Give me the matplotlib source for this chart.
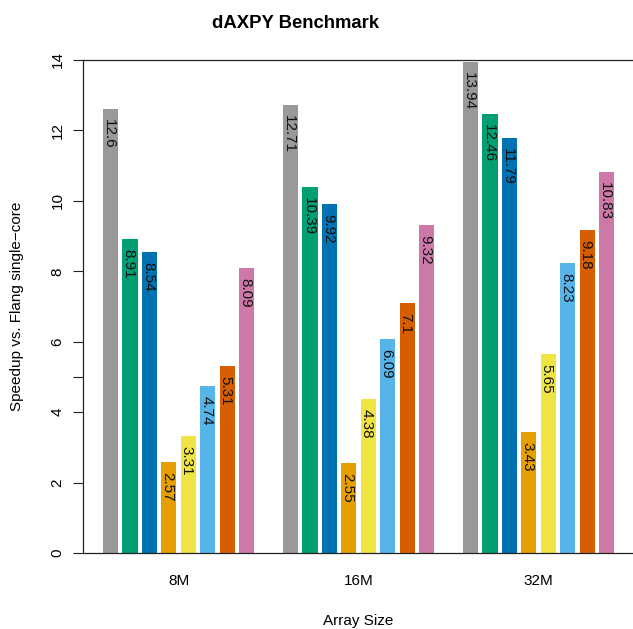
import matplotlib
matplotlib.use('Agg')
import matplotlib.pyplot as plt

plt.rcParams['font.family'] = ['Liberation Sans', 'DejaVu Sans']

sizes = ['8M', '16M', '32M']
series_colors = ['#999999', '#009E73', '#0072B2', '#E69F00',
                 '#F0E442', '#56B4E9', '#D55E00', '#CC79A7']
speedup_8M = [12.6, 8.91, 8.54, 2.57, 3.31, 4.74, 5.31, 8.09]
speedup_16M = [12.71, 10.39, 9.92, 2.55, 4.38, 6.09, 7.1, 9.32]
speedup_32M = [13.94, 12.46, 11.79, 3.43, 5.65, 8.23, 9.18, 10.83]
yticks = [0, 2, 4, 6, 8, 10, 12, 14]

W, H = 633, 629
fig = plt.figure(figsize=(W / 100, H / 100), dpi=100)
ax_l, ax_r, ax_t, ax_b = 83, 633, 60, 553
ax = fig.add_axes([ax_l / W, 1 - ax_b / H, (ax_r - ax_l) / W, (ax_b - ax_t) / H])

bar_w = 0.78
group_pitch = 9.264
groups = [speedup_8M, speedup_16M, speedup_32M]
n = len(series_colors)
centers = []
for g, vals in enumerate(groups):
    c = g * group_pitch
    centers.append(c)
    for j, v in enumerate(vals):
        x = c + (j - (n - 1) / 2)
        ax.bar(x, v, width=bar_w, color=series_colors[j], linewidth=0)
        ax.annotate(f'{v:g}', (x, v), xytext=(-3.9, -7.2), textcoords='offset points',
                    rotation=-90, rotation_mode='anchor', ha='left', va='baseline',
                    fontsize=11, color='#111111')

ax.set_xlim(-4.915, 23.39)
ax.set_ylim(0, 14)

ax.spines['right'].set_visible(False)
for s in ['left', 'top', 'bottom']:
    ax.spines[s].set_color('#222222')
    ax.spines[s].set_linewidth(0.9)

ax.set_yticks(yticks)
ax.set_yticklabels([str(t) for t in yticks], rotation=90, va='center')
ax.set_yticks([5], minor=True)
ax.tick_params(axis='y', which='both', length=7.2, width=0.8, color='#222222', pad=6,
               labelsize=11)
ax.set_xticks(centers)
ax.set_xticklabels(sizes)
ax.tick_params(axis='x', length=0, pad=15, labelsize=11)

fig.text(295.7 / W, 1 - 28 / H, 'dAXPY Benchmark', ha='center', va='baseline',
         fontsize=13.3, fontweight='bold')
fig.text(358 / W, 1 - 625 / H, 'Array Size', ha='center', va='baseline', fontsize=11)
fig.text(17.5 / W, 1 - 306.5 / H, 'Speedup vs. Flang single\u2212core', ha='center',
         va='center', rotation=90, fontsize=11)

fig.savefig('out.png', dpi=100)
